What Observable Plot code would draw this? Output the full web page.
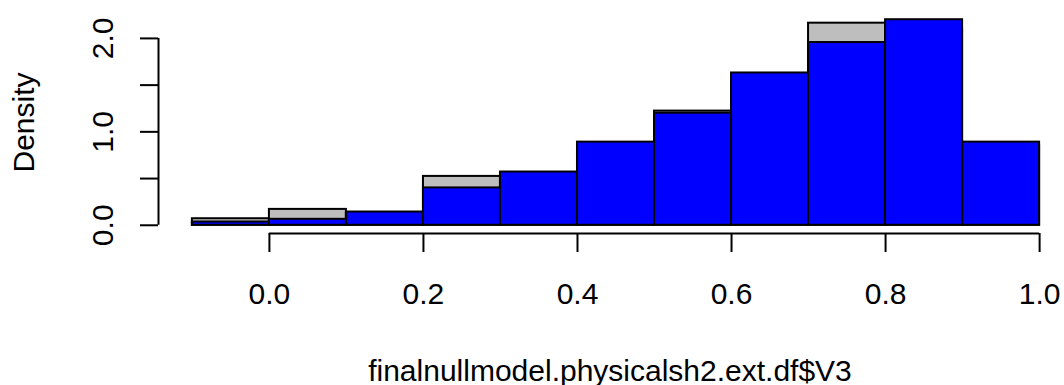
<!DOCTYPE html>
<html>
<head>
<meta charset="utf-8">
<script src="https://cdn.jsdelivr.net/npm/d3@7"></script>
<script src="https://cdn.jsdelivr.net/npm/@observablehq/plot@0.6"></script>
<style>
  html, body { margin: 0; padding: 0; background: #fff; }
  svg { display: block; }
</style>
</head>
<body>
<div id="chart"></div>
<script>
// Histogram bins (left edges, width 0.1)
const binStart = [-0.1, 0.0, 0.1, 0.2, 0.3, 0.4, 0.5, 0.6, 0.7, 0.8, 0.9];
const binWidth = 0.1;
// Grey histogram (drawn behind)
const greyDensity = [0.07, 0.17, 0.12, 0.523, 0.50, 0.82, 1.222, 1.55, 2.163, 2.10, 0.85];
// Blue histogram (drawn in front)
const blueDensity = [0.035, 0.064, 0.142, 0.40, 0.57, 0.89, 1.20, 1.63, 1.956, 2.20, 0.89];

const xTicks = [0, 0.2, 0.4, 0.6, 0.8, 1.0];
const yTicks = [0, 0.5, 1.0, 1.5, 2.0];
const yLabelTicks = [0, 1.0, 2.0];
const xLabel = "finalnullmodel.physicalsh2.ext.df$V3";
const yLabel = "Density";

// R-style extended user ranges (4% padding)
const xDomain = [-0.144, 1.044];
const yDomain = [-0.088, 2.288];

const grey = binStart.map((s, i) => ({x1: s, x2: s + binWidth, y: greyDensity[i]}));
const blue = binStart.map((s, i) => ({x1: s, x2: s + binWidth, y: blueDensity[i]}));

const font = "'Liberation Sans', Arial, Helvetica, sans-serif";

const chart = Plot.plot({
  width: 1064,
  height: 385,
  marginLeft: 158,
  marginRight: -9,
  marginTop: 11,
  marginBottom: 152,
  style: {fontFamily: font, fontSize: "30px", background: "#fff", color: "#000", overflow: "hidden"},
  x: {domain: xDomain, axis: null},
  y: {domain: yDomain, axis: null},
  marks: [
    Plot.rectY(grey, {x1: "x1", x2: "x2", y1: 0, y2: "y", fill: "#BEBEBE", stroke: "#000", strokeWidth: 2}),
    Plot.rectY(blue, {x1: "x1", x2: "x2", y1: 0, y2: "y", fill: "#0000FF", stroke: "#000", strokeWidth: 2}),
    // x axis
    Plot.ruleY([yDomain[0]], {x1: xTicks[0], x2: xTicks[xTicks.length - 1], stroke: "#000", strokeWidth: 2}),
    Plot.axisX({anchor: "bottom", ticks: xTicks, tickSize: 19, tickPadding: 30, tickFormat: d3.format(".1f"),
      fontSize: 30, stroke: "#000", strokeWidth: 2, fill: "#000", label: null}),
    // y axis
    Plot.ruleX([xDomain[0]], {y1: yTicks[0], y2: yTicks[yTicks.length - 1], stroke: "#000", strokeWidth: 2}),
    Plot.axisY({anchor: "left", ticks: yTicks, tickSize: 18, tickFormat: () => "", stroke: "#000", strokeWidth: 2, label: null}),
    Plot.text(yLabelTicks, {x: xDomain[0], y: d => d, text: d => d3.format(".1f")(d), rotate: -90,
      textAnchor: "middle", lineAnchor: "bottom", dx: -46, fontSize: 30, fill: "#000"}),
    // axis titles
    Plot.text([yLabel], {x: xDomain[0], y: (yDomain[0] + yDomain[1]) / 2, text: d => d, rotate: -90,
      textAnchor: "middle", lineAnchor: "bottom", dx: -125, fontSize: 30, fill: "#000"}),
    Plot.text([xLabel], {x: (xDomain[0] + xDomain[1]) / 2, y: yDomain[0], text: d => d,
      textAnchor: "middle", lineAnchor: "bottom", dx: -6, dy: 147, fontSize: 30, fill: "#000"})
  ]
});

document.getElementById("chart").appendChild(chart);
</script>
</body>
</html>
